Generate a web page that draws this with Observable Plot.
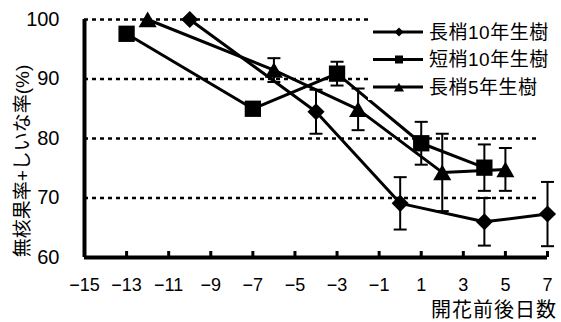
<!DOCTYPE html>
<html><head><meta charset="utf-8">
<script src="https://cdn.jsdelivr.net/npm/d3@7"></script>
<script src="https://cdn.jsdelivr.net/npm/@observablehq/plot@0.6"></script>
<style>body{margin:0;background:#fff} svg{display:block}</style>
</head><body><div id="chart"></div>
<script>
const seriesNames = ["長梢10年生樹", "短梢10年生樹", "長梢5年生樹"];
const days1 = [-10, -4, 0, 4, 7];
const rate1 = [100, 84.5, 69.1, 66.0, 67.3];
const err1  = [0, 3.7, 4.4, 4.0, 5.4];
const days2 = [-13, -7, -3, 1, 4];
const rate2 = [97.6, 85.0, 90.9, 79.2, 75.1];
const err2  = [0, 1.0, 2.0, 3.6, 3.9];
const days3 = [-12, -6, -2, 2, 5];
const rate3 = [100, 91.5, 84.9, 74.3, 74.8];
const err3  = [0, 2.0, 3.5, 6.5, 3.6];
const xTicks = [-15, -13, -11, -9, -7, -5, -3, -1, 1, 3, 5, 7];
const yTicks = [60, 70, 80, 90, 100];
const gridValues = [70, 80, 90, 100];
const xLabel = "開花前後日数";
const yLabel = "無核果率+しいな率(%)";

const FONT = '"Liberation Sans", "Noto Sans CJK JP", sans-serif';
const build = (name, xs, ys, es) => xs.map((x, i) => ({series: name, x, y: ys[i], err: es[i]}));
const s1 = build(seriesNames[0], days1, rate1, err1);
const s2 = build(seriesNames[1], days2, rate2, err2);
const s3 = build(seriesNames[2], days3, rate3, err3);
const all = [...s1, ...s2, ...s3];
const errRows = all.filter(d => d.err > 0);

const capSymbol = {draw(ctx) { ctx.moveTo(-6.5, 0); ctx.lineTo(6.5, 0); }};

const W = 561, H = 322, ML = 84, MR = 14, MT = 19, MB = 65;
const fmt = d => d < 0 ? "\u2212" + (-d) : String(d);

const chart = Plot.plot({
  width: W, height: H,
  marginLeft: ML, marginRight: MR, marginTop: MT, marginBottom: MB,
  style: {fontFamily: FONT, color: "black", background: "white"},
  x: {domain: [-15, 7]},
  y: {domain: [60, 100]},
  marks: [
    Plot.ruleY(gridValues, {stroke: "black", strokeWidth: 2.5, strokeDasharray: "4,4", insetRight: 7}),
    Plot.axisX({ticks: xTicks, tickSize: 0, tickPadding: 21, fontSize: 18, tickFormat: fmt, label: null}),
    Plot.axisY({ticks: yTicks, tickSize: 0, tickPadding: 25, fontSize: 20, label: null}),
    Plot.ruleX([-15], {stroke: "black", strokeWidth: 4}),
    Plot.ruleY([60], {stroke: "black", strokeWidth: 4}),
    Plot.tickX(xTicks.slice(1), {x: d => d, stroke: "black", strokeWidth: 3, insetTop: H - MT - MB - 6}),
    Plot.line(all, {x: "x", y: "y", z: "series", stroke: "black", strokeWidth: 3}),
    Plot.ruleX(errRows, {x: "x", y1: d => d.y - d.err, y2: d => d.y + d.err, stroke: "black", strokeWidth: 2}),
    Plot.dot(errRows, {x: "x", y: d => d.y + d.err, symbol: capSymbol, stroke: "black", strokeWidth: 2, fill: "none"}),
    Plot.dot(errRows, {x: "x", y: d => d.y - d.err, symbol: capSymbol, stroke: "black", strokeWidth: 2, fill: "none"}),
    Plot.dot(s1, {x: "x", y: "y", symbol: "diamond2", r: 7.7, fill: "black", stroke: "none"}),
    Plot.dot(s2, {x: "x", y: "y", symbol: "square", r: 9.2, fill: "black", stroke: "none"}),
    Plot.dot(s3, {x: "x", y: "y", symbol: "triangle", r: 6.7, dy: 2.5, fill: "black", stroke: "none"})
  ]
});

const svg = d3.select(chart);
// legend
const lg = svg.append("g").attr("font-family", FONT).attr("text-anchor", "start");
lg.append("rect").attr("x", 368).attr("y", 10).attr("width", 190).attr("height", 90).attr("fill", "white");
const legSyms = [
  d3.symbol(d3.symbolDiamond2, 52),
  d3.symbol(d3.symbolSquare, 64),
  d3.symbol(d3.symbolTriangle, 44)
];
const rowY = [32, 59.5, 87];
seriesNames.forEach((name, i) => {
  const g = lg.append("g").attr("transform", `translate(0,${rowY[i]})`);
  g.append("line").attr("x1", 373).attr("x2", 423).attr("y1", 0).attr("y2", 0).attr("stroke", "black").attr("stroke-width", 3);
  g.append("path").attr("d", legSyms[i]()).attr("transform", `translate(399,${i === 2 ? 1.5 : 0})`).attr("fill", "black");
  g.append("text").attr("x", 429).attr("y", 0).attr("dy", "0.36em").attr("text-anchor", "start")
    .attr("font-size", 19).attr("letter-spacing", 0.5).attr("fill", "black").text(name);
});
// axis titles
svg.append("text").attr("transform", "translate(22,161) rotate(-90)").attr("text-anchor", "middle").attr("dy", "0.36em")
  .attr("font-family", FONT).attr("font-size", 19).attr("fill", "black").text(yLabel);
svg.append("text").attr("x", 557).attr("y", 310).attr("text-anchor", "end").attr("dy", "0.36em")
  .attr("font-family", FONT).attr("font-size", 20).attr("letter-spacing", 1).attr("fill", "black").text(xLabel);

document.getElementById("chart").append(chart);
</script>
</body></html>
